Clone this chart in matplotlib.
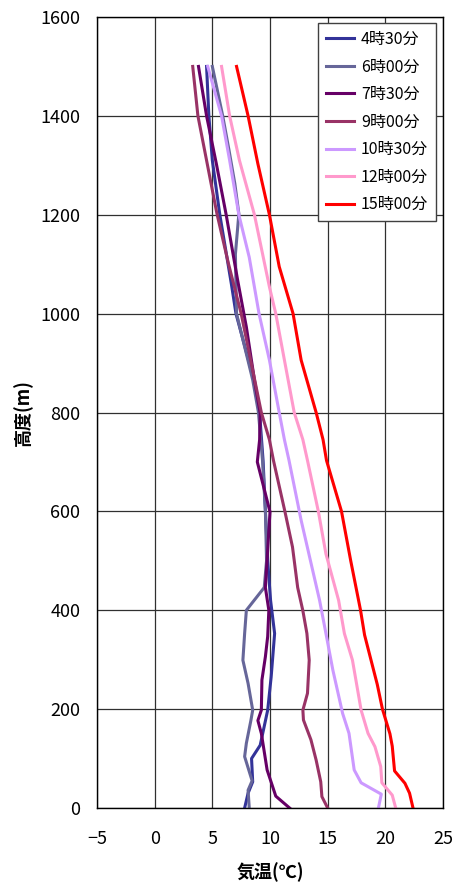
import matplotlib
matplotlib.use('Agg')
import matplotlib.pyplot as plt

plt.rcParams['font.family'] = ['Noto Sans CJK JP', 'DejaVu Sans']

# (height m, temperature C) per launch time
h_0430 = [0, 30, 53, 100, 127, 198, 265, 353, 420, 500, 602, 703, 798, 866, 1000, 1060, 1200, 1310, 1400, 1500]
t_0430 = [7.8, 8.1, 8.5, 8.4, 9.15, 9.8, 10.1, 10.4, 10.05, 9.8, 9.6, 9.4, 9.1, 8.6, 7.05, 6.65, 5.65, 5.0, 4.7, 4.5]

h_0600 = [0, 36, 55, 104, 131, 178, 198, 252, 299, 353, 400, 446, 500, 602, 703, 800, 866, 1000, 1120, 1202, 1263, 1330, 1400, 1500]
t_0600 = [8.2, 8.1, 8.45, 7.8, 7.95, 8.35, 8.5, 8.1, 7.65, 7.8, 7.95, 9.5, 9.7, 9.6, 9.35, 9.0, 8.5, 7.1, 7.0, 7.3, 6.95, 6.45, 5.9, 5.0]

h_0730 = [0, 24, 77, 151, 177, 198, 259, 306, 347, 400, 446, 599, 700, 745, 798, 866, 973, 1067, 1200, 1303, 1400, 1500]
t_0730 = [11.7, 10.5, 9.75, 9.25, 8.95, 9.25, 9.3, 9.6, 9.8, 9.9, 9.6, 10.0, 8.9, 9.1, 9.15, 8.65, 7.95, 7.2, 6.2, 5.35, 4.5, 3.8]

h_0900 = [0, 23, 53, 97, 138, 178, 198, 232, 299, 353, 399, 446, 528, 599, 703, 745, 800, 1000, 1101, 1202, 1310, 1400, 1500]
t_0900 = [15.0, 14.5, 14.4, 14.0, 13.55, 12.9, 12.85, 13.25, 13.4, 13.2, 12.85, 12.4, 11.95, 11.3, 10.3, 9.95, 9.25, 7.5, 6.4, 5.4, 4.5, 3.75, 3.3]

h_1030 = [0, 28, 51, 77, 151, 191, 279, 353, 420, 582, 703, 745, 800, 906, 1000, 1114, 1200, 1310, 1400, 1500]
t_1030 = [19.4, 19.65, 17.9, 17.3, 16.85, 16.3, 15.45, 14.85, 14.3, 12.7, 11.65, 11.25, 10.8, 9.95, 9.05, 8.2, 7.3, 6.5, 5.8, 4.6]

h_1200 = [0, 26, 51, 84, 124, 151, 198, 299, 353, 420, 514, 599, 703, 745, 800, 906, 1000, 1054, 1200, 1310, 1400, 1500]
t_1200 = [20.9, 20.6, 19.7, 19.6, 19.1, 18.5, 17.9, 17.15, 16.45, 15.95, 14.85, 14.2, 13.25, 12.85, 12.1, 11.25, 10.5, 9.95, 8.65, 7.35, 6.5, 5.8]

h_1500 = [0, 30, 50, 75, 125, 150, 200, 250, 300, 350, 400, 500, 600, 703, 745, 800, 906, 1000, 1095, 1200, 1303, 1400, 1500]
t_1500 = [22.4, 22.1, 21.7, 20.8, 20.6, 20.4, 19.75, 19.3, 18.75, 18.2, 17.85, 17.0, 16.2, 14.9, 14.6, 14.0, 12.7, 12.0, 10.8, 9.95, 8.95, 8.1, 7.1]

labels = ['4時30分', '6時00分', '7時30分', '9時00分', '10時30分', '12時00分', '15時00分']
colors = ['#333399', '#666699', '#660066', '#993366', '#CC99FF', '#FF99CC', '#FF0000']
series = [(t_0430, h_0430), (t_0600, h_0600), (t_0730, h_0730), (t_0900, h_0900),
          (t_1030, h_1030), (t_1200, h_1200), (t_1500, h_1500)]

fig = plt.figure(figsize=(4.54, 8.86), dpi=100)
ax = fig.add_axes([97 / 454, 78 / 886, 346 / 454, 791 / 886])

for (t, h), lab, c in zip(series, labels, colors):
    ax.plot(t, h, color=c, lw=2.2, label=lab)

ax.set_xlim(-5, 25)
ax.set_ylim(0, 1600)
ax.set_xticks(range(-5, 26, 5))
ax.set_xticklabels(['\u22125', '0', '5', '10', '15', '20', '25'])
ax.set_yticks(range(0, 1601, 200))
ax.grid(True, color='#303030', lw=0.9)
ax.set_axisbelow(True)
ax.tick_params(length=0, labelsize=13)
ax.tick_params(axis='x', pad=16)
ax.tick_params(axis='y', pad=12)
for sp in ax.spines.values():
    sp.set_color('black')
    sp.set_linewidth(1.0)

ax.set_xlabel('気温(℃)', fontsize=13, fontweight='bold', labelpad=10)
ax.set_ylabel('高度(m)', fontsize=13, fontweight='bold', labelpad=5)

leg = ax.legend(loc='upper right', bbox_to_anchor=(0.980, 0.9924), borderaxespad=0,
                fontsize=11.5, fancybox=False, framealpha=1, edgecolor='#404040',
                handlelength=1.8, handletextpad=0.4, labelspacing=0.66, borderpad=0.5)
leg.get_frame().set_linewidth(1.0)

fig.savefig('out.png', dpi=100)
